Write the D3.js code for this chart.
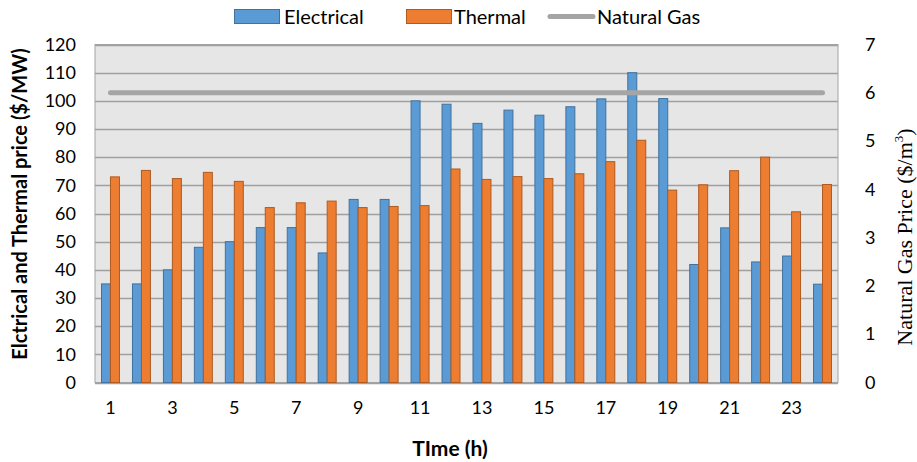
<!DOCTYPE html>
<html><head><meta charset="utf-8">
<script src="https://cdn.jsdelivr.net/npm/d3@7"></script>
<style>body{margin:0;background:#fff}</style>
</head><body>
<svg id="c" width="917" height="462"></svg>
<script>
const hours = d3.range(1, 25);
const electrical = [35,35,40,48,50,55,55,46,65,65,100,98.8,92,96.7,94.9,97.9,100.7,110,100.8,41.9,54.9,42.8,44.9,34.9];
const thermal = [73.0,75.3,72.4,74.6,71.4,62.1,63.8,64.4,62.1,62.5,62.8,75.8,72.1,73.1,72.4,74.1,78.4,86.0,68.3,70.2,75.2,80.0,60.6,70.3];
const naturalGas = hours.map(() => 6);
const leftTicks = d3.range(0, 121, 10);
const rightTicks = d3.range(0, 8, 1);
const xTickLabels = [1,3,5,7,9,11,13,15,17,19,21,23];

const svg = d3.select('#c');
const L = 95, R = 838, T = 44.5, B = 382.5;
const font = 'Lato, "Open Sans", sans-serif';

const x = d3.scaleBand().domain(hours).range([L, R]).paddingInner(0.42).paddingOuter(0.21);
const xs = d3.scaleBand().domain(['e','t']).range([0, x.bandwidth()]);
const y = d3.scaleLinear().domain([0,120]).range([B, T]);
const y2 = d3.scaleLinear().domain([0,7]).range([B, T]);

svg.append('rect').attr('x', L).attr('y', T).attr('width', R-L).attr('height', B-T)
  .attr('fill', '#e6e6e6').attr('stroke', '#a3a3a3').attr('stroke-width', 1);

svg.append('g').selectAll('line').data(leftTicks).join('line')
  .attr('x1', L).attr('x2', R).attr('y1', d => Math.round(y(d))+0.5).attr('y2', d => Math.round(y(d))+0.5)
  .attr('stroke', '#a0a0a0').attr('stroke-width', 1.3);

const g = svg.append('g');
g.selectAll('rect.e').data(hours).join('rect').attr('class','e')
  .attr('x', d => x(d) + xs('e')).attr('width', xs.bandwidth())
  .attr('y', (d,i) => y(electrical[i])).attr('height', (d,i) => B - y(electrical[i]))
  .attr('fill', '#5b9bd5').attr('stroke', '#41719c').attr('stroke-width', 1);
g.selectAll('rect.t').data(hours).join('rect').attr('class','t')
  .attr('x', d => x(d) + xs('t')).attr('width', xs.bandwidth())
  .attr('y', (d,i) => y(thermal[i])).attr('height', (d,i) => B - y(thermal[i]))
  .attr('fill', '#ed7d31').attr('stroke', '#ae5a21').attr('stroke-width', 1);

const line = d3.line().x((d,i) => x(hours[i]) + x.bandwidth()/2).y(d => y2(d));
svg.append('path').datum(naturalGas).attr('d', line).attr('fill','none')
  .attr('stroke', '#a5a5a5').attr('stroke-width', 5).attr('stroke-linecap','round');

// left axis
const yAxis = d3.axisLeft(y).tickValues(leftTicks).tickSize(0).tickPadding(19);
const ga = svg.append('g').attr('transform', `translate(${L},0)`).call(yAxis);
ga.select('.domain').remove();
ga.selectAll('text').attr('font-family', font).attr('font-size', 18).attr('fill', '#000');

const yAxis2 = d3.axisRight(y2).tickValues(rightTicks).tickFormat(d3.format('d')).tickSize(0).tickPadding(27);
const gb = svg.append('g').attr('transform', `translate(${R},0)`).call(yAxis2);
gb.select('.domain').remove();
gb.selectAll('text').attr('font-family', font).attr('font-size', 18).attr('fill', '#000');

const xAxis = d3.axisBottom(x).tickValues(xTickLabels).tickSize(0).tickPadding(19);
const gx = svg.append('g').attr('transform', `translate(0,${B})`).call(xAxis);
gx.select('.domain').remove();
gx.selectAll('text').attr('font-family', font).attr('font-size', 18).attr('fill', '#000');

// titles
svg.append('text').attr('transform', `translate(27,204) rotate(-90)`)
  .attr('text-anchor','middle').attr('font-family', font).attr('font-weight','bold')
  .attr('font-size', 20).text('Elctrical and Thermal price ($/MW)');
svg.append('text').attr('x', 450).attr('y', 456).attr('text-anchor','middle')
  .attr('font-family', font).attr('font-weight','bold').attr('font-size', 21).text('TIme (h)');
const rt = svg.append('text').attr('transform', `translate(912,237) rotate(-90)`)
  .attr('text-anchor','middle').attr('font-family','"Liberation Serif", "DejaVu Serif", serif')
  .attr('font-size', 22);
rt.append('tspan').text('Natural Gas Price ($/m');
rt.append('tspan').attr('font-size', 13).attr('dy', -9).text('3');
rt.append('tspan').attr('dy', 9).text(')');

// legend
const lg = svg.append('g').attr('font-family', font).attr('font-size', 20);
lg.append('rect').attr('x', 234.5).attr('y', 9.5).attr('width', 45).attr('height', 14).attr('fill','#5b9bd5').attr('stroke','#41719c');
lg.append('text').attr('x', 284).attr('y', 24).text('Electrical');
lg.append('rect').attr('x', 406.5).attr('y', 9.5).attr('width', 45).attr('height', 14).attr('fill','#ed7d31').attr('stroke','#ae5a21');
lg.append('text').attr('x', 454).attr('y', 24).text('Thermal');
lg.append('line').attr('x1', 550).attr('x2', 593).attr('y1', 16.5).attr('y2', 16.5).attr('stroke','#a5a5a5').attr('stroke-width',5).attr('stroke-linecap','round');
lg.append('text').attr('x', 597).attr('y', 24).text('Natural Gas');
</script>
</body></html>
